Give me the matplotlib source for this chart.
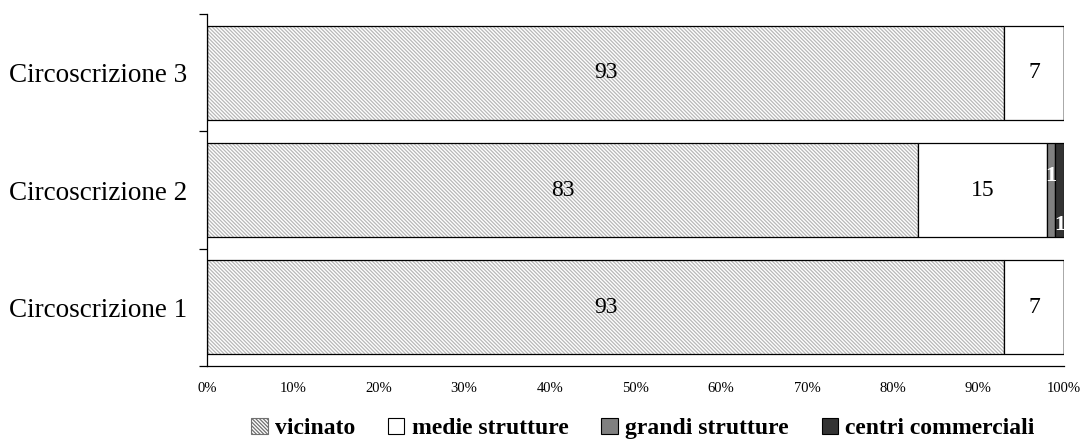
import matplotlib.pyplot as plt
import matplotlib as mpl

mpl.rcParams['font.family'] = ['Liberation Serif', 'DejaVu Serif']
mpl.rcParams['hatch.linewidth'] = 0.9

zones = ['Circoscrizione 1', 'Circoscrizione 2', 'Circoscrizione 3']
vicinato = [93, 83, 93]
medie = [7, 15, 7]
grandi = [0, 1, 0]
centri = [0, 1, 0]

series = [
    ('vicinato', vicinato, dict(facecolor='white', hatch='\\' * 9, edgecolor='#b8b8b8')),
    ('medie strutture', medie, dict(facecolor='white', edgecolor='black')),
    ('grandi strutture', grandi, dict(facecolor='#808080', edgecolor='black')),
    ('centri commerciali', centri, dict(facecolor='#333333', edgecolor='black')),
]

fig = plt.figure(figsize=(10.84, 4.45), dpi=100)
ax = fig.add_axes([0.191, 0.178, 0.7905, 0.79])

y = list(range(len(zones)))
left = [0] * len(zones)
for name, vals, style in series:
    ax.barh(y, vals, left=left, height=0.8, linewidth=0, label=name, **style)
    # black outline drawn on top of the fill/hatch
    ax.barh(y, vals, left=left, height=0.8, facecolor='none', edgecolor='black', linewidth=0.9)
    for i, v in enumerate(vals):
        if v == 0:
            continue
        cx = left[i] + v / 2
        if v >= 5:
            ax.text(cx, y[i], str(v), ha='center', va='center', fontsize=17)
        else:
            ty = y[i] + (0.12 if name == 'grandi strutture' else -0.3)
            ax.text(cx, ty, str(v), ha='center', va='center', fontsize=16,
                    color='white', fontweight='bold')
    left = [l + v for l, v in zip(left, vals)]

ax.set_xlim(0, 100)
ax.set_ylim(-0.5, 2.5)
ax.set_xticks(range(0, 101, 10))
ax.set_xticklabels([f'{t}%' for t in range(0, 101, 10)], fontsize=10.5)
ax.tick_params(axis='x', length=0, pad=12)
ax.set_yticks(y)
ax.set_yticklabels(zones, fontsize=19.5)
ax.set_yticks([-0.5, 0.5, 1.5, 2.5], minor=True)
ax.tick_params(axis='y', which='major', length=0, pad=14)
ax.tick_params(axis='y', which='minor', length=6, width=0.9)
for s in ['top', 'right']:
    ax.spines[s].set_visible(False)
for s in ['left', 'bottom']:
    ax.spines[s].set_linewidth(0.9)

leg_handles = []
for n, _, st in series:
    st2 = dict(st)
    st2['edgecolor'] = '#707070' if n == 'vicinato' else 'black'
    leg_handles.append(mpl.patches.Patch(label=n, linewidth=0.8, **st2))
fig.legend(handles=leg_handles, loc='lower center', ncol=4, frameon=False,
           bbox_to_anchor=(0.593, -0.035), prop={'size': 17, 'weight': 'bold'},
           handlelength=0.7, handleheight=0.7, handletextpad=0.3, columnspacing=1.4)

fig.savefig('out.png', dpi=100)
